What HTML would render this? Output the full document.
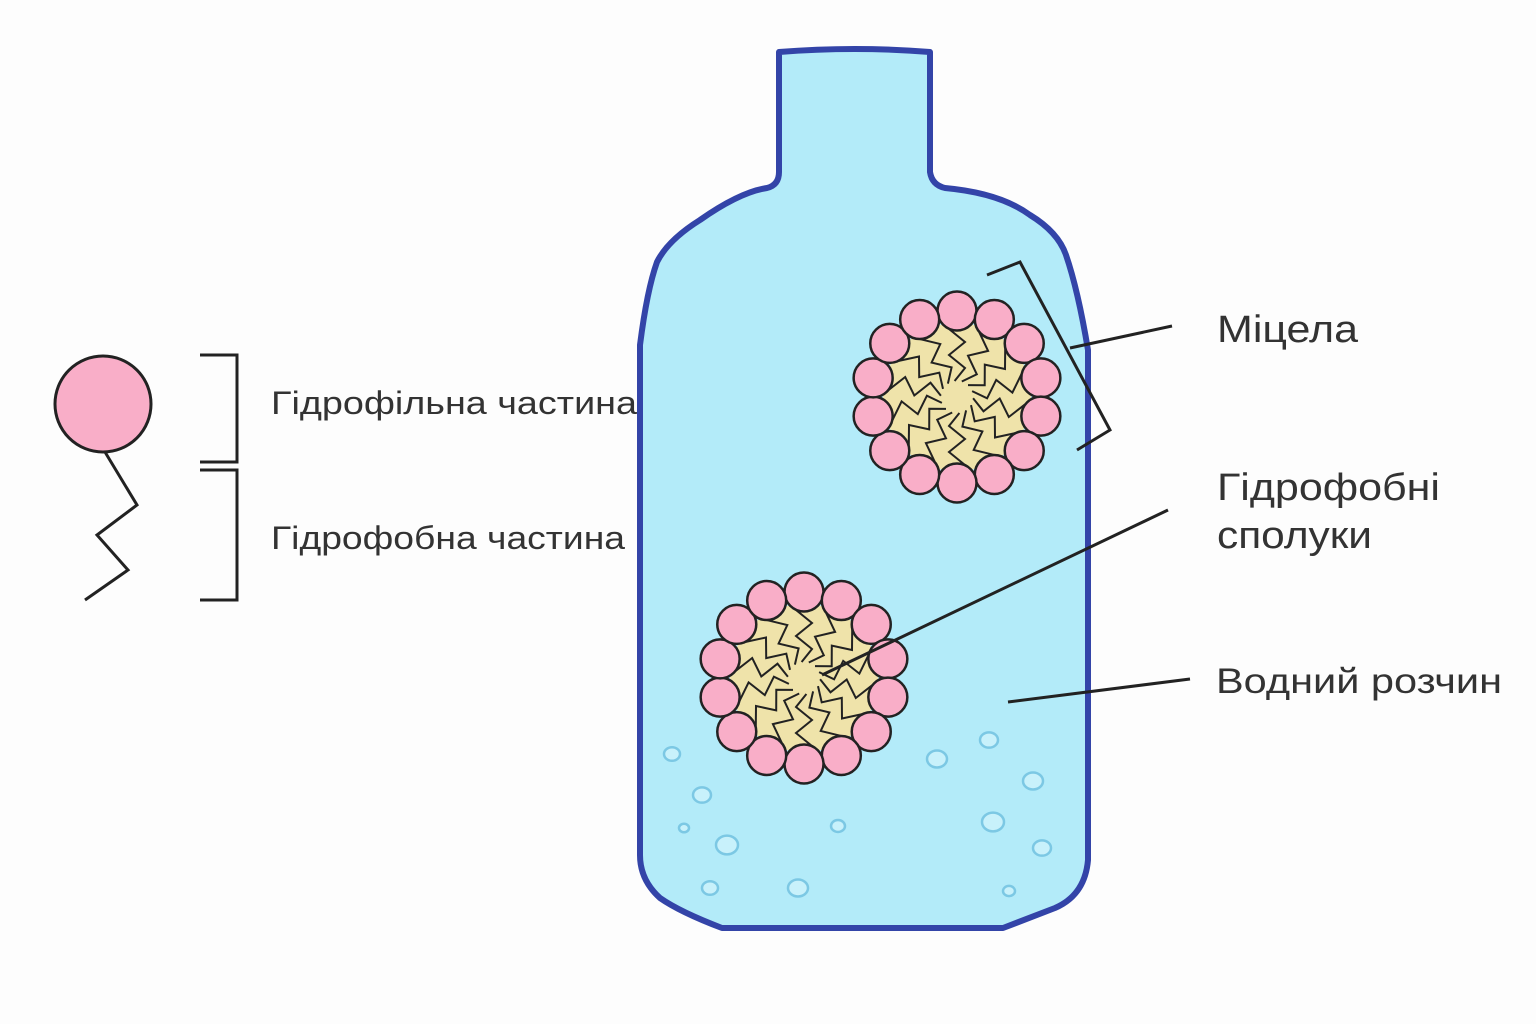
<!DOCTYPE html>
<html><head><meta charset="utf-8"><style>
html,body{margin:0;padding:0;background:#fdfdfd;}
svg{display:block}
text{font-family:"Liberation Sans","DejaVu Sans",sans-serif;fill:#333}
</style></head><body>
<svg id="s" width="1536" height="1024" viewBox="0 0 1536 1024" xmlns="http://www.w3.org/2000/svg">
<rect width="1536" height="1024" fill="#fdfdfd"/>
<path d="M779,52 Q855,46 930,52 L930,172 Q932,185 945,188 Q1000,193 1030,215 Q1058,232 1066,255 Q1078,290 1088,350 L1088,860 Q1085,895 1055,908 L1003,928 L722,928 Q680,912 660,898 Q640,880 640,855 L640,345 Q647,290 657,262 Q668,240 700,220 Q740,192 767,188 Q779,185 779,172 Z" fill="#b3ebf9" stroke="#3344a8" stroke-width="6" stroke-linejoin="round"/>
<g id="bub" fill="#c8f1fb" stroke="#7cc8e4" stroke-width="2.5"></g>
<g id="m"></g>
<g stroke="#222" stroke-width="3" fill="none">
<polyline points="987,275 1020,262 1110,430 1077,450"/>
<line x1="1070" y1="348" x2="1172" y2="326"/>
<line x1="1168" y1="510" x2="822" y2="675"/>
<line x1="1008" y1="702" x2="1190" y2="679"/>
<polyline points="105,452 137,505 97,535 128,570 85,600"/>
<polyline points="200,355 237,355 237,462 200,462"/>
<polyline points="200,470 237,470 237,600 200,600"/>
</g>
<circle cx="103" cy="404" r="48" fill="#f9aec8" stroke="#222" stroke-width="3"/>
<text x="271" y="414" font-size="32" textLength="366" lengthAdjust="spacingAndGlyphs">Гідрофільна частина</text>
<text x="271" y="549" font-size="32" textLength="354" lengthAdjust="spacingAndGlyphs">Гідрофобна частина</text>
<text x="1217" y="342" font-size="38" textLength="141" lengthAdjust="spacingAndGlyphs">Міцела</text>
<text x="1217" y="500" font-size="38" textLength="223" lengthAdjust="spacingAndGlyphs">Гідрофобні</text>
<text x="1217" y="548" font-size="38" textLength="155" lengthAdjust="spacingAndGlyphs">сполуки</text>
<text x="1216" y="693" font-size="35" textLength="286" lengthAdjust="spacingAndGlyphs">Водний розчин</text>
</svg>
<script>
const NS="http://www.w3.org/2000/svg";
const bub=[[672,754,8],[702,795,9],[684,828,5],[727,845,11],[710,888,8],[798,888,10],[838,826,7],[937,759,10],[989,740,9],[1033,781,10],[993,822,11],[1042,848,9],[1009,891,6]];
const b=document.getElementById('bub');
bub.forEach(([x,y,r])=>{const c=document.createElementNS(NS,'ellipse');c.setAttribute('cx',x);c.setAttribute('cy',y);c.setAttribute('rx',r);c.setAttribute('ry',r*0.85);b.appendChild(c);});
const m=document.getElementById('m');
function el(t,a){const e=document.createElementNS(NS,t);for(const k in a)e.setAttribute(k,a[k]);m.appendChild(e);return e;}
function micelle(cx,cy,off){
 el('circle',{cx,cy,r:74,fill:'#efe3aa'});
 const n=14;
 for(let i=0;i<n;i++){
  const a=off+i*2*Math.PI/n;
  const ux=Math.cos(a),uy=Math.sin(a),px=-uy,py=ux;
  let pts=[];
  for(let k=0;k<=4;k++){const d=68-k*13;const w=(k%2?8:-8)*(k==4?0.3:1);pts.push((cx+ux*d+px*w).toFixed(1)+','+(cy+uy*d+py*w).toFixed(1));}
  el('polyline',{points:pts.join(' '),fill:'none',stroke:'#222','stroke-width':2});
 }
 for(let i=0;i<n;i++){
  const a=off+i*2*Math.PI/n;
  el('circle',{cx:cx+Math.cos(a)*86,cy:cy+Math.sin(a)*86,r:19.5,fill:'#f9aec8',stroke:'#222','stroke-width':2.5});
 }
}
micelle(957,397,-Math.PI/2);
micelle(804,678,-Math.PI/2);
</script>
</body></html>
